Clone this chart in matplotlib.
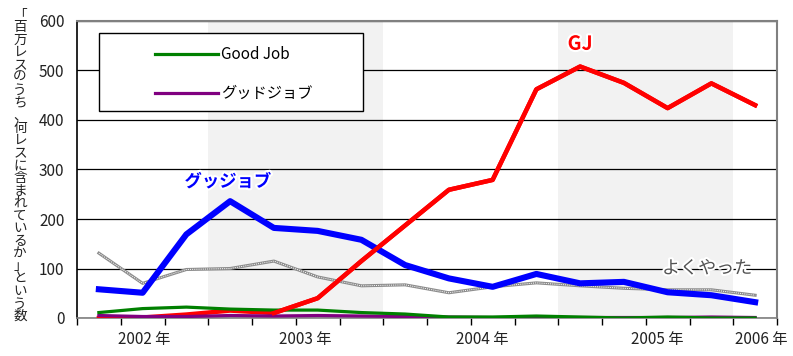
import matplotlib
matplotlib.use("Agg")
import matplotlib.pyplot as plt
import matplotlib.patheffects as pe
from matplotlib.patches import Rectangle
from matplotlib.lines import Line2D
import numpy as np

plt.rcParams['font.family'] = ['Noto Sans CJK JP', 'DejaVu Sans']

# quarterly counts per million posts, 16 quarters
quarters = np.arange(16)
gj = [0, 1, 7, 15, 10, 40, 115, 187, 259, 279, 462, 508, 475, 424, 474, 430]
gujjobu = [58, 51, 169, 236, 182, 176, 158, 107, 80, 63, 89, 70, 73, 52, 46, 32]
yokuyatta = [131, 70, 98, 100, 115, 83, 65, 67, 51, 63, 71, 65, 60, 57, 57, 46]
good_job = [11, 19, 22, 18, 16, 16, 11, 8, 2, 2, 4, 2, 0, 2, 0, 0]
guddojobu = [5, 3, 3, 5, 4, 5, 4, 3, 2, 1, 1, 1, 1, 1, 2, 1]

year_labels = ["2002 年", "2003 年", "2004 年", "2005 年", "2006 年"]
year_label_pos = [1.03, 4.71, 8.76, 12.76, 15.13]
shaded_years = [(2.5, 6.5), (10.5, 14.5)]
ylabel = "「百万レスのうち、何レスに含まれているか」という数"

fig = plt.figure(figsize=(7.93, 3.56), dpi=100)
ax = fig.add_axes([77 / 793, 38 / 356, 700 / 793, 297 / 356])

for a, b in shaded_years:
    ax.axvspan(a, b, color='#f2f2f2', zorder=0, lw=0)

ax.set_xlim(-0.5, 15.5)
ax.set_ylim(0, 600)
ax.set_yticks(range(0, 601, 100))
ax.yaxis.grid(True, color='black', lw=0.9, zorder=1)
ax.set_axisbelow(True)
ax.tick_params(axis='y', length=0, pad=9, labelsize=11, colors='#222222')

ax.set_xticks(year_label_pos)
ax.set_xticklabels(year_labels)
ax.set_xticks(np.arange(-0.5, 16, 1), minor=True)
ax.tick_params(axis='x', which='major', length=0, pad=9.5, labelsize=11, colors='#222222')
ax.tick_params(axis='x', which='minor', length=5, width=1, color='black')

for s in ['top', 'right']:
    ax.spines[s].set_color('#808080')
    ax.spines[s].set_linewidth(1.5)
ax.spines['bottom'].set_color('#808080')
ax.spines['bottom'].set_linewidth(1.2)
ax.spines['left'].set_color('black')
ax.spines['left'].set_linewidth(1.2)

# lines
ax.plot(quarters, gj, color='#ff0000', lw=3.2, zorder=3)
ax.plot(quarters, yokuyatta, color='#8c8c8c', lw=2.2, zorder=4)
ax.plot(quarters, yokuyatta, color='white', lw=0.7, ls=(0, (1, 1.2)), zorder=4)
ax.plot(quarters, guddojobu, color='#800080', lw=2.3, zorder=4)
ax.plot(quarters, good_job, color='#008000', lw=2.3, zorder=4)
ax.plot(quarters, gujjobu, color='#0000ff', lw=4.4, zorder=5)
# red drawn again above blue from the crossing onwards
ax.plot(quarters[4:], gj[4:], color='#ff0000', lw=3.2, zorder=6)

glow = [pe.withStroke(linewidth=3, foreground='white')]
ax.text(2.95, 275, "グッジョブ", color='#0000ff', fontsize=12.5, fontweight='bold',
        ha='center', va='center', path_effects=glow, zorder=7)
ax.text(11.0, 553, "GJ", color='#ff0000', fontsize=14, fontweight='bold',
        ha='center', va='center', path_effects=glow, zorder=7)
ax.text(13.9, 100, "よくやった", color='#555555', fontsize=13,
        ha='center', va='center', path_effects=glow, zorder=7)

# legend box
ax.add_patch(Rectangle((22 / 700, (318 - 111) / 297), 264 / 700, 78 / 297,
                       transform=ax.transAxes, facecolor='white', edgecolor='black',
                       lw=1, zorder=8))
handles = [Line2D([], [], color='#008000', lw=2.3),
           Line2D([], [], color='#800080', lw=2.3)]
ax.legend(handles, ["Good Job", "グッドジョブ"], loc='upper left',
          bbox_to_anchor=((155 - 77) / 700, (318 - 46) / 297), frameon=False,
          fontsize=11, handlelength=4.1, handletextpad=0.2, labelspacing=1.45,
          borderpad=0, borderaxespad=0).set_zorder(9)

# vertical y label, one character per cell
n = len(ylabel)
top, bottom = 14.5, 316
for i, ch in enumerate(ylabel):
    y = top + (bottom - top) * i / (n - 1)
    fig.text(20 / 793, 1 - y / 356, ch, ha='center', va='center', fontsize=9.8,
             color='#222222')

fig.savefig("out.png", dpi=100)
